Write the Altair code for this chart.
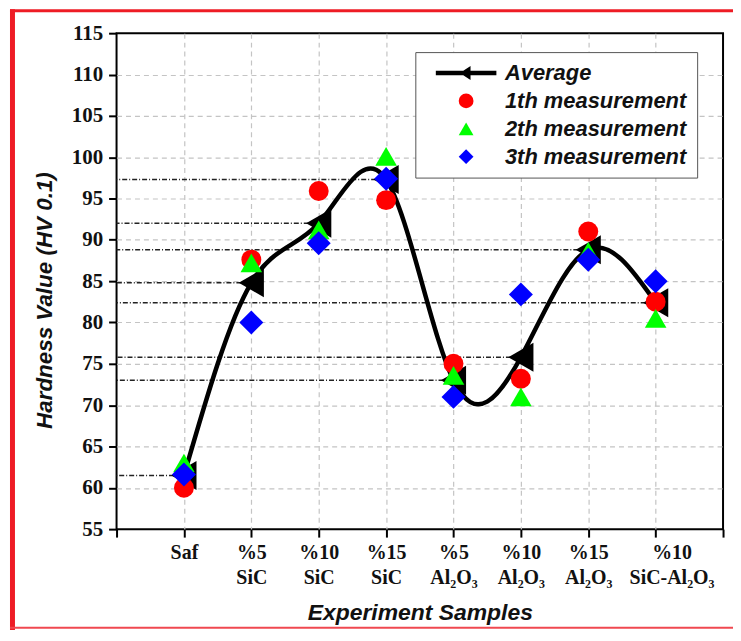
import json
import altair as alt
import pandas as pd

# ---- data ----
positions = [1, 2, 3, 4, 5, 6, 7, 8]
label_line1 = ["Saf", "%5", "%10", "%15", "%5", "%10", "%15", "%10"]
label_line2 = ["", "SiC", "SiC", "SiC", "Al₂O₃", "Al₂O₃", "Al₂O₃", "SiC-Al₂O₃"]

average = [61.5, 84.8, 92.0, 97.3, 73.0, 75.8, 88.8, 82.4]
meas1 = [60.0, 87.6, 95.9, 94.8, 75.0, 73.2, 91.0, 82.5]
meas2 = [63.0, 87.2, 91.2, 100.1, 73.6, 71.0, 88.6, 80.5]
meas3 = [61.6, 80.0, 89.6, 97.4, 71.0, 83.4, 87.6, 85.0]

series_names = ["Average", "1th measurement", "2th measurement", "3th measurement"]
series_colors = ["#000000", "#ff0000", "#00ff00", "#0000ff"]
avg_symbol = "M-4.1,-0.3L4.1,-0.3L4.1,0.3L-4.1,0.3Z M-0.85,0L0.6,-0.95L0.6,0.95Z"
series_shapes = [avg_symbol, "circle", "triangle-up", "diamond"]
series_sizes = [800, 400, 470, 580]

avg_df = pd.DataFrame({"pos": positions, "value": average})

# label expression (multi-line category labels)
parts = []
for p, a, b in zip(positions, label_line1, label_line2):
    lines = [a] if not b else [a, b]
    parts.append(f"datum.value === {p} ? {json.dumps(lines, ensure_ascii=False)} : ")
x_label_expr = "".join(parts) + "''"

x_ticks = [i * 0.5 for i in range(0, 19)]
y_ticks = [55 + i * 2.5 for i in range(0, 25)]

serif = "Liberation Serif"
sans = "Liberation Sans"

x_enc = alt.X(
    "pos:Q",
    scale=alt.Scale(domain=[0, 9], nice=False, zero=False),
    axis=alt.Axis(
        values=x_ticks,
        title="Experiment Samples",
        titleFont=sans, titleFontSize=23, titleFontWeight="bold", titleFontStyle="italic",
        titleColor="#111", titlePadding=14,
        labelExpr=x_label_expr,
        labelFont=serif, labelFontSize=20, labelFontWeight="bold", labelColor="#111",
        labelLineHeight=26, labelBaseline="top", labelPadding=5,
        labelOffset={"condition": {"test": "datum.value === 8", "value": 16},
                     "value": 0},
        labelOverlap=False, labelFlush=False, labelBound=False,
        tickColor="black", tickWidth=2,
        tickSize={"condition": {"test": "datum.value % 1 === 0", "value": 8}, "value": 5},
        grid=True, gridColor="#c4c4c4", gridDash=[5, 4], gridWidth=1.2,
        gridOpacity={"condition": {"test": "datum.value % 1 === 0 && datum.value > 0 && datum.value < 9", "value": 1}, "value": 0},
        domain=False,
    ),
)
y_enc = alt.Y(
    "value:Q",
    scale=alt.Scale(domain=[55, 115], nice=False, zero=False),
    axis=alt.Axis(
        values=y_ticks,
        title="Hardness Value (HV 0.1)",
        titleFont=sans, titleFontSize=22.5, titleFontWeight="bold", titleFontStyle="italic",
        titleColor="#111", titlePadding=15, titleY=268,
        labelExpr="datum.value % 5 === 0 ? datum.label : ''",
        labelFont=serif, labelFontSize=21, labelFontWeight="bold", labelColor="#111",
        labelPadding=6, labelOverlap=False, labelFlush=False,
        tickColor="black", tickWidth=2,
        tickSize={"condition": {"test": "datum.value % 5 === 0", "value": 8}, "value": 4},
        grid=True, gridColor="#c4c4c4", gridDash=[5, 4], gridWidth=1.2,
        gridOpacity={"condition": {"test": "datum.value % 5 === 0 && datum.value > 55 && datum.value < 115", "value": 1}, "value": 0},
        domain=False,
    ),
)

legend = alt.Legend(
    title=None, orient="none", legendX=300, legendY=19,
    padding=10, symbolOffset=30, labelOffset=28, rowPadding=6,
    strokeColor="#555", fillColor="white",
    labelFont=sans, labelFontSize=22, labelFontWeight="bold",
    labelFontStyle="italic", labelColor="#111", labelLimit=0,
    symbolSize=220, symbolStrokeWidth=0, symbolOpacity=1,
)
color_enc = alt.Color(
    "series:N",
    scale=alt.Scale(domain=series_names, range=series_colors),
    legend=legend,
)
shape_enc = alt.Shape(
    "series:N",
    scale=alt.Scale(domain=series_names, range=series_shapes),
    legend=legend,
)

base_avg = alt.Chart(avg_df)

drop_lines = base_avg.transform_calculate(start="0").mark_rule(
    color="#222", strokeWidth=1.5, strokeDash=[5, 2, 1, 2]
).encode(
    x=x_enc,
    x2=alt.X2("start:Q"),
    y=y_enc,
)

avg_line = base_avg.mark_line(
    interpolate="natural", color="black", strokeWidth=4.5
).encode(x=alt.X("pos:Q"), y=alt.Y("value:Q"))

avg_marks = base_avg.mark_point(
    shape="triangle-left", filled=True, color="black", size=850, opacity=1
).encode(x=alt.X("pos:Q"), y=alt.Y("value:Q"))

meas_layers = []
for name, vals, size in zip(series_names[1:], [meas1, meas2, meas3], series_sizes[1:]):
    df = pd.DataFrame({"pos": positions, "value": vals, "series": name})
    meas_layers.append(
        alt.Chart(df).mark_point(filled=True, opacity=1, strokeWidth=0, size=size).encode(
            x=alt.X("pos:Q"),
            y=alt.Y("value:Q"),
            color=color_enc,
            shape=shape_enc,
        )
    )

one = alt.Data(values=[{"k": 1}])
border_left = alt.Chart(one).mark_rule(color="#ee1c25", strokeWidth=5).encode(
    x=alt.value(-104.5), y=alt.value(-24), y2=alt.value(600)
)
border_top = alt.Chart(one).mark_rule(color="#ee1c25", strokeWidth=3).encode(
    x=alt.value(-107), x2=alt.value(620), y=alt.value(-22.5)
)
border_bottom = alt.Chart(one).mark_rule(color="#f04850", strokeWidth=2).encode(
    x=alt.value(-107), x2=alt.value(620), y=alt.value(597)
)

chart = alt.layer(
    drop_lines, avg_line, avg_marks, *meas_layers,
    border_left, border_top, border_bottom,
).properties(
    width=609, height=498,
    autosize=alt.AutoSizeParams(type="none"),
    padding={"left": 109, "top": 24, "right": 10, "bottom": 100},
    background="white",
).configure_view(
    stroke="black", strokeWidth=2
)

chart.save("out.html", embed_options={"renderer": "svg", "actions": False})
